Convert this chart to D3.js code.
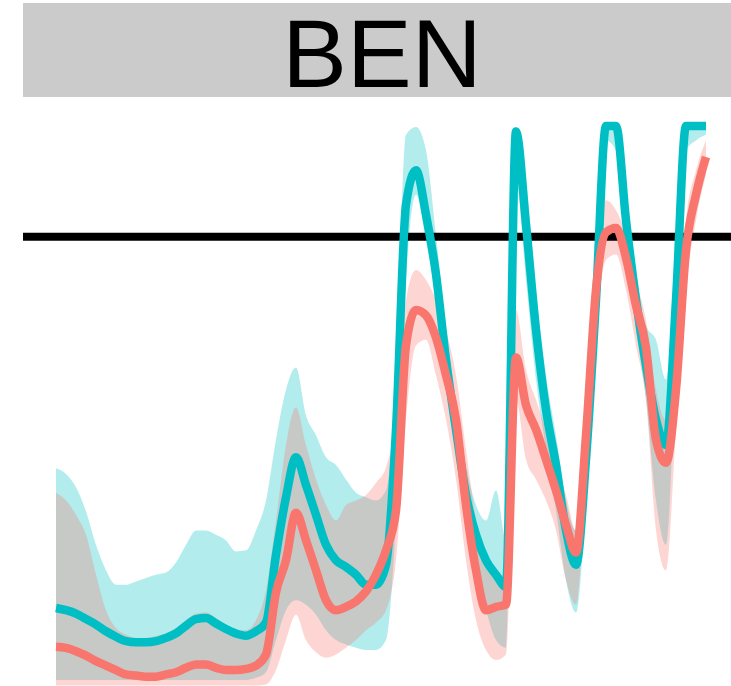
<!DOCTYPE html>
<html>
<head>
<meta charset="utf-8">
<script src="https://cdn.jsdelivr.net/npm/d3@7"></script>
<style>
  body { margin: 0; background: #fff; }
  svg { display: block; }
</style>
</head>
<body>
<div id="main"></div>
<script>
var facet = 'BEN'
var threshold = 40

// teal series (mean + ribbon)
var tealMean = [6.5, 6.3, 6.0, 5.5, 5.0, 4.4, 3.9, 3.5, 3.4, 3.4, 3.5, 3.8, 4.2, 4.9, 5.5, 5.6, 5.1, 4.6, 4.2, 4.0,
  4.4, 5.2, 11.3, 16.5, 20.1, 17.6, 14.9, 12.2, 10.8, 10.2, 9.5, 8.6, 8.6, 10.4, 22.6, 42.9, 46.0, 42.0, 36.6, 28.9,
  22.6, 16.7, 13.1, 10.8, 9.5, 8.4, 49.5, 41.1, 31.6, 24.4, 19.4, 13.5, 10.4, 19.9, 34.3, 50, 50, 41.5, 34.3, 28.4,
  23.5, 21.2, 34.3, 50, 50, 50]
var tealHigh = [19.1, 18.6, 17.4, 15.2, 12.2, 9.9, 8.6, 8.6, 8.9, 9.2, 9.5, 9.7, 10.6, 12.2, 13.5, 13.5, 13.1, 12.6, 11.6, 11.7,
  13.5, 16.2, 21.7, 26.2, 28.2, 23.9, 22.1, 20.1, 19.4, 18.1, 16.9, 16.5, 16.2, 17.1, 27.1, 49.2, 49.9, 47.8, 40.2, 31.6,
  25.3, 19.4, 15.8, 14.4, 17.1, 12.6, 49.9, 45.1, 35.2, 27.5, 22.1, 16.2, 13.5, 23.5, 37.0, 50, 50, 44.2, 37.0, 32.0,
  30.7, 27.1, 37.0, 50, 50, 50]
var tealLow = [0, 0, 0, 0, 0, 0, 0, 0, 0, 0, 0, 0, 0, 0, 0, 0, 0, 0, 0, 0,
  0.2, 0.7, 3.6, 6.3, 7.2, 6.8, 5.9, 4.5, 3.6, 3.2, 2.9, 2.7, 2.7, 3.6, 14.4, 36.1, 43.8, 39.7, 34.3, 26.6,
  20.8, 14.0, 9.5, 6.3, 3.6, 2.9, 45.1, 36.1, 27.1, 20.8, 15.3, 9.0, 6.1, 16.2, 31.6, 48.7, 47.8, 38.8, 31.6, 25.3,
  16.2, 12.2, 28.9, 47.8, 48.7, 49.2]

// salmon series (mean + ribbon)
var salmonMean = [3.0, 2.9, 2.6, 2.2, 1.7, 1.3, 0.9, 0.5, 0.4, 0.3, 0.3, 0.5, 0.7, 1.1, 1.4, 1.4, 1.1, 0.9, 0.9, 1.0,
  1.3, 2.3, 7.9, 10.8, 15.1, 12.6, 9.9, 7.2, 6.3, 6.6, 7.1, 8.0, 9.5, 11.7, 15.3, 30.2, 33.4, 32.9, 30.9, 27.5,
  23.5, 15.8, 9.9, 6.3, 6.6, 6.8, 29.1, 24.8, 22.6, 19.9, 17.1, 14.0, 11.5, 22.1, 35.2, 40.4, 40.8, 38.1, 33.8, 30.0,
  21.7, 19.6, 26.2, 38.8, 43.8, 47.2]
var salmonHigh = [16.9, 16.2, 14.9, 13.1, 9.5, 6.3, 4.7, 4.1, 3.8, 3.8, 4.0, 4.2, 4.7, 5.4, 6.0, 6.1, 5.6, 5.0, 4.5, 4.5,
  5.4, 8.1, 14.4, 21.2, 24.6, 21.2, 18.1, 15.8, 14.4, 15.8, 16.2, 16.7, 17.8, 19.2, 23.5, 34.3, 37.0, 36.1, 34.3, 31.6,
  27.5, 20.8, 14.4, 10.4, 9.5, 9.5, 33.4, 28.0, 25.3, 22.6, 19.9, 16.7, 13.5, 25.3, 37.9, 43.3, 42.4, 40.2, 36.1, 32.5,
  26.2, 23.5, 28.9, 41.5, 46.0, 48.7]
var salmonLow = [-0.5, -0.5, -0.5, -0.5, -0.5, -0.5, -0.5, -0.5, -0.5, -0.5, -0.5, -0.5, -0.5, -0.5, -0.5, -0.5, -0.5, -0.5, -0.5, -0.5,
  -0.5, -0.4, 0.9, 3.6, 5.9, 3.6, 2.5, 2.0, 2.3, 2.9, 3.6, 4.5, 5.2, 6.3, 10.8, 23.5, 30.2, 30.7, 27.5, 23.5,
  18.1, 10.8, 5.4, 2.7, 1.8, 2.3, 25.3, 19.9, 18.1, 16.2, 13.5, 9.0, 6.8, 18.1, 31.6, 37.9, 38.4, 35.2, 30.2, 25.3,
  13.5, 9.9, 22.6, 35.2, 41.5, 45.6]

var series = [
  { name: 'teal', color: '#00BFC4', mean: tealMean, low: tealLow, high: tealHigh },
  { name: 'salmon', color: '#F8766D', mean: salmonMean, low: salmonLow, high: salmonHigh }
]

var width = 731
var height = 686
var panelLeft = 23
var panelRight = 741

var main = d3.select('#main')
  .append('svg')
  .attr('width', width)
  .attr('height', height)

var x = d3.scaleLinear()
  .domain([0, tealMean.length - 1])
  .range([56, 706])

var y = d3.scaleLinear()
  .domain([0, 50])
  .range([680, 126])

// strip
main.append('rect')
  .attr('x', panelLeft)
  .attr('y', 3)
  .attr('width', panelRight - panelLeft)
  .attr('height', 94)
  .attr('fill', '#cbcbcb')

main.append('text')
  .text(facet)
  .attr('x', (panelLeft + panelRight) / 2)
  .attr('y', 87)
  .attr('text-anchor', 'middle')
  .style('font-family', 'Liberation Sans, Arial, sans-serif')
  .style('font-size', '97px')
  .attr('fill', '#000')

var ribbon = d3.area()
  .curve(d3.curveMonotoneX)
  .x((_, i) => x(i))
  .y0(d => y(d[0]))
  .y1(d => y(d[1]))

var line = d3.line()
  .curve(d3.curveMonotoneX)
  .x((_, i) => x(i))
  .y(d => y(d))

main.selectAll('path.ribbon')
  .data(series)
  .enter()
  .append('path')
    .attr('class', 'ribbon')
    .attr('d', s => ribbon(s.low.map((v, i) => [v, s.high[i]])))
    .attr('fill', s => s.color)
    .attr('fill-opacity', 0.3)

main.append('line')
  .attr('x1', panelLeft)
  .attr('x2', panelRight)
  .attr('y1', y(threshold))
  .attr('y2', y(threshold))
  .attr('stroke', '#000')
  .attr('stroke-width', 8)

main.selectAll('path.mean')
  .data(series)
  .enter()
  .append('path')
    .attr('class', 'mean')
    .attr('d', s => line(s.mean))
    .attr('fill', 'none')
    .attr('stroke', s => s.color)
    .attr('stroke-width', 8.5)
    .attr('stroke-linejoin', 'round')
</script>
</body>
</html>
